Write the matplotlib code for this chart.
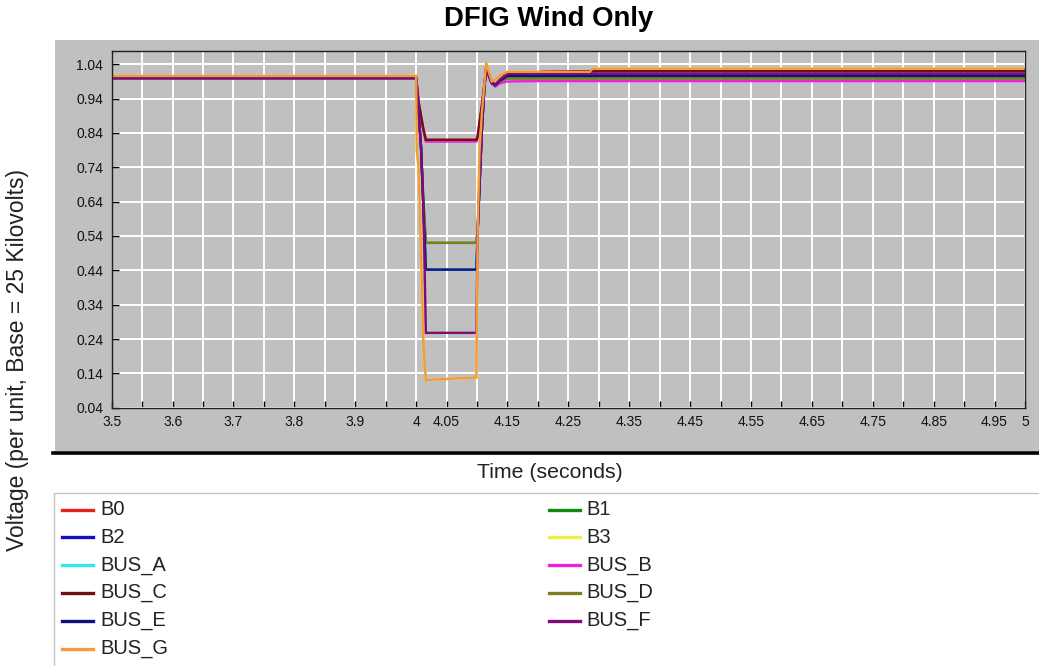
import matplotlib
matplotlib.use("Agg")
import numpy as np
import matplotlib.pyplot as plt
from matplotlib.lines import Line2D
from matplotlib.patches import Rectangle

plt.rcParams["font.family"] = ["Liberation Sans", "DejaVu Sans"]

# ---------------------------------------------------------------- data
# Simulation time (s) at which bus voltages are sampled
t = [3.500, 4.000, 4.001, 4.004, 4.008, 4.012, 4.016, 4.028, 4.099, 4.101,
     4.104, 4.108, 4.112, 4.115, 4.119, 4.124, 4.130, 4.138, 4.150, 4.200,
     4.205, 4.285, 4.290, 5.000]

# Bus voltages in per unit (base 25 kV)
b0 = [1.000, 1.000, 0.985, 0.930, 0.890, 0.850, 0.820, 0.820, 0.820, 0.830,
      0.870, 0.920, 0.980, 1.030, 1.015, 0.990, 0.980, 0.995, 1.012, 1.016,
      1.018, 1.020, 1.020, 1.020]
b1 = [1.000, 1.000, 0.970, 0.900, 0.800, 0.640, 0.520, 0.520, 0.520, 0.560,
      0.690, 0.850, 0.970, 1.030, 1.010, 0.985, 0.979, 0.990, 0.999, 0.999,
      0.999, 0.999, 0.999, 0.999]
b2 = [1.000, 1.000, 0.970, 0.900, 0.800, 0.620, 0.442, 0.442, 0.442, 0.550,
      0.680, 0.850, 0.970, 1.030, 1.010, 0.985, 0.979, 0.995, 1.013, 1.013,
      1.008, 1.008, 1.008, 1.008]
b3 = [1.006, 1.006, 0.790, 0.740, 0.500, 0.220, 0.120, 0.122, 0.128, 0.550,
      0.780, 0.900, 0.980, 1.045, 1.020, 0.990, 0.995, 1.008, 1.018, 1.018,
      1.018, 1.018, 1.027, 1.027]
bus_a = [1.000, 1.000, 0.970, 0.900, 0.800, 0.620, 0.442, 0.442, 0.442, 0.550,
         0.680, 0.850, 0.970, 1.030, 1.010, 0.985, 0.979, 0.992, 1.006, 1.006,
         1.006, 1.006, 1.006, 1.006]
bus_b = [1.000, 1.000, 0.985, 0.930, 0.885, 0.845, 0.815, 0.815, 0.815, 0.825,
         0.865, 0.915, 0.975, 1.025, 1.005, 0.985, 0.975, 0.985, 0.990, 0.991,
         0.991, 0.991, 0.991, 0.991]
bus_c = [1.000, 1.000, 0.985, 0.930, 0.890, 0.850, 0.820, 0.820, 0.820, 0.830,
         0.870, 0.920, 0.980, 1.030, 1.015, 0.990, 0.980, 0.995, 1.012, 1.016,
         1.018, 1.020, 1.020, 1.020]
bus_d = [1.000, 1.000, 0.970, 0.900, 0.800, 0.640, 0.520, 0.520, 0.520, 0.560,
         0.690, 0.850, 0.970, 1.030, 1.010, 0.985, 0.979, 0.990, 0.999, 0.999,
         0.999, 0.999, 0.999, 0.999]
bus_e = [1.000, 1.000, 0.970, 0.900, 0.800, 0.620, 0.442, 0.442, 0.442, 0.550,
         0.680, 0.850, 0.970, 1.030, 1.010, 0.985, 0.979, 0.992, 1.006, 1.006,
         1.006, 1.006, 1.006, 1.006]
bus_f = [1.000, 1.000, 0.970, 0.900, 0.800, 0.620, 0.258, 0.258, 0.258, 0.550,
         0.680, 0.850, 0.970, 1.030, 1.012, 0.987, 0.980, 0.995, 1.013, 1.013,
         1.013, 1.013, 1.013, 1.013]
bus_g = [1.006, 1.006, 0.790, 0.740, 0.500, 0.220, 0.120, 0.122, 0.128, 0.550,
         0.780, 0.900, 0.980, 1.045, 1.020, 0.990, 0.995, 1.008, 1.018, 1.018,
         1.018, 1.018, 1.027, 1.027]

names = ["B0", "B1", "B2", "B3", "BUS_A", "BUS_B", "BUS_C", "BUS_D",
         "BUS_E", "BUS_F", "BUS_G"]
series = [b0, b1, b2, b3, bus_a, bus_b, bus_c, bus_d, bus_e, bus_f, bus_g]
colors = ["#E8201C", "#108A10", "#1010C0", "#F0F040", "#30E8F0", "#F020E0",
          "#6E1010", "#7E7E20", "#10107E", "#800A7A", "#F59A3A"]

x_tick_labels = ["3.5", "3.6", "3.7", "3.8", "3.9", "4", "4.05", "4.15",
                 "4.25", "4.35", "4.45", "4.55", "4.65", "4.75", "4.85",
                 "4.95", "5"]
y_tick_labels = ["0.04", "0.14", "0.24", "0.34", "0.44", "0.54", "0.64",
                 "0.74", "0.84", "0.94", "1.04"]

# ---------------------------------------------------------------- layout
W, H = 1039, 666
fig = plt.figure(figsize=(W / 100, H / 100), dpi=100)
fig.patch.set_facecolor("white")


def fx(px):
    return px / W


def fy(py):
    return 1 - py / H


GRAY = "#C0C0C0"

# grey chart panel with a heavy rule underneath
fig.add_artist(Rectangle((fx(55), fy(451)), 1.0, fy(40) - fy(451),
                         transform=fig.transFigure, facecolor=GRAY,
                         edgecolor="none", zorder=0))
fig.add_artist(Line2D([fx(53), 1.0], [fy(452.8), fy(452.8)], color="black",
                      lw=2.6, transform=fig.transFigure))

# legend box
fig.add_artist(Rectangle((fx(53.5), -0.05), 1.0, fy(493) + 0.05,
                         transform=fig.transFigure, facecolor="white",
                         edgecolor="#C4C4C4", lw=1.0, zorder=0))

ax = fig.add_axes([fx(111.7), fy(407.7), fx(1025) - fx(111.7),
                   fy(51) - fy(407.7)])
ax.set_facecolor(GRAY)

for vals, col in zip(series, colors):
    ax.plot(t, vals, color=col, lw=1.7, solid_joinstyle="miter")

ax.set_xlim(3.5, 5.0)
ax.set_ylim(0.04, 1.0787)

grid_x = np.linspace(3.5, 5.0, 31)
labelled = {round(float(s), 2): s for s in x_tick_labels}
ax.set_xticks(grid_x)
ax.set_xticklabels([labelled.get(round(float(p), 2), "") for p in grid_x],
                   fontsize=10)
ax.set_yticks([float(s) for s in y_tick_labels])
ax.set_yticklabels(y_tick_labels, fontsize=10)

ax.tick_params(direction="in", length=5, width=1, color="black",
               labelcolor="#111111")
ax.tick_params(axis="x", pad=5)
ax.tick_params(axis="y", pad=6)
ax.grid(True, color="white", lw=1.4)
ax.set_axisbelow(True)
for sp in ax.spines.values():
    sp.set_color("#202020")
    sp.set_linewidth(1.0)

# titles
fig.text(fx(549), fy(19), "DFIG Wind Only", ha="center", va="center",
         fontsize=19.8, fontweight="bold")
fig.text(fx(550), fy(472), "Time (seconds)", ha="center", va="center",
         fontsize=15.3, color="#222222")
fig.text(fx(18), fy(360), "Voltage (per unit, Base = 25 Kilovolts)",
         ha="center", va="center", rotation=90, fontsize=16.5,
         color="#222222")

# legend entries, two columns
col_line = [(62, 93), (549, 580)]
col_text = [100, 586]
for i, (name, col) in enumerate(zip(names, colors)):
    c, r = i % 2, i // 2
    y = fy(509.5 + r * 27.8)
    x0, x1 = col_line[c]
    fig.add_artist(Line2D([fx(x0), fx(x1)], [y, y], color=col, lw=2.4,
                          transform=fig.transFigure))
    fig.text(fx(col_text[c]), y, name, ha="left", va="center",
             fontsize=14.5, color="#222222")

fig.savefig("out.png", dpi=100, facecolor=fig.get_facecolor())
